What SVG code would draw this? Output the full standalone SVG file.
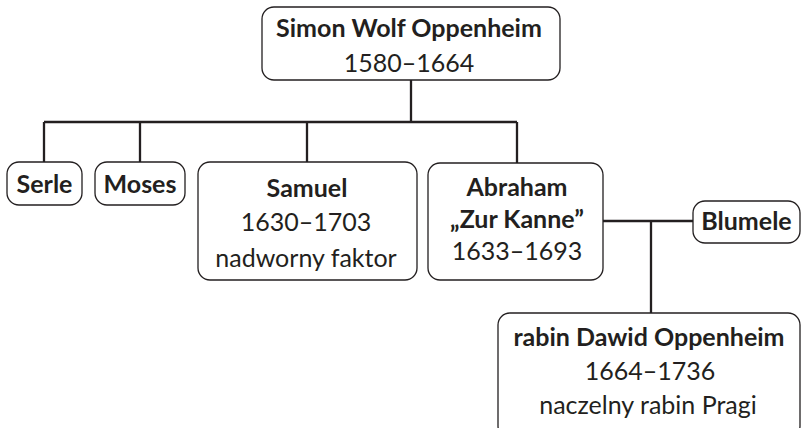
<svg xmlns="http://www.w3.org/2000/svg" width="802" height="428" viewBox="0 0 802 428">
<style>
.box{fill:#fff;stroke:#231f20;stroke-width:1.3}
.ln{fill:none;stroke:#231f20;stroke-width:2.3}
text{font-family:Lato,"Liberation Sans",sans-serif;font-size:25px;fill:#231f20;text-anchor:middle}
.b{font-weight:bold}
</style>
<rect width="802" height="428" fill="#fff"/>
<g id="connectors">
<path class="ln" d="M411 80V122M44 122H517M44 122V162M140 122V162M307 122V162M517 122V163M603 221H693M651 221V313"/>
</g>
<g id="simon">
<rect class="box" x="262" y="7" width="298" height="73" rx="12"/>
<text class="b" x="409" y="37">Simon Wolf Oppenheim</text>
<text x="409" y="72">1580–1664</text>
</g>
<g id="serle">
<rect class="box" x="7" y="162" width="75" height="43" rx="12"/>
<text class="b" x="44.5" y="193">Serle</text>
</g>
<g id="moses">
<rect class="box" x="95" y="162" width="90" height="43" rx="12"/>
<text class="b" x="140" y="193">Moses</text>
</g>
<g id="samuel">
<rect class="box" x="198" y="162" width="219" height="118" rx="12"/>
<text class="b" x="307" y="197">Samuel</text>
<text x="306" y="231">1630–1703</text>
<text x="306" y="267">nadworny faktor</text>
</g>
<g id="abraham">
<rect class="box" x="428" y="163" width="175" height="117" rx="12"/>
<text class="b" x="517" y="196">Abraham</text>
<text class="b" x="517" y="228">„Zur Kanne”</text>
<text x="517" y="260">1633–1693</text>
</g>
<g id="blumele">
<rect class="box" x="693" y="201" width="107" height="42" rx="12"/>
<text class="b" x="746.5" y="230">Blumele</text>
</g>
<g id="dawid">
<rect class="box" x="498" y="313" width="302" height="125" rx="12"/>
<text class="b" x="649" y="346">rabin Dawid Oppenheim</text>
<text x="650" y="380">1664–1736</text>
<text x="648" y="414">naczelny rabin Pragi</text>
</g>
</svg>
